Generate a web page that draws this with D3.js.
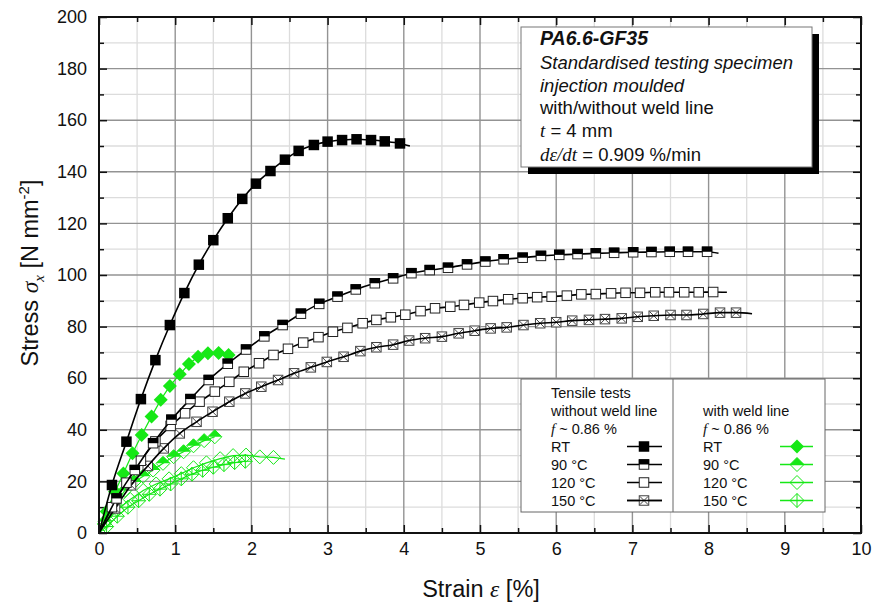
<!DOCTYPE html>
<html><head><meta charset="utf-8">
<script src="https://cdn.jsdelivr.net/npm/d3@7"></script>
<style>
body{margin:0;background:#fff}
svg{display:block}
text{font-family:"Liberation Sans",Arial,Helvetica,sans-serif;fill:#111}
.it{font-style:italic}
.serif{font-family:"Liberation Serif","Times New Roman",serif;font-style:italic}
</style>
</head><body>
<svg id="chart" width="881" height="602"></svg>
<script>
// ---------- data ----------
const xTickValues = [0,1,2,3,4,5,6,7,8,9,10];
const yTickValues = [0,20,40,60,80,100,120,140,160,180,200];

// Without weld line  [strain %, stress N/mm²]
const rtNoWeld = [[0.17,18.6],[0.36,35.4],[0.55,51.9],[0.74,67],[0.93,80.6],[1.12,93],[1.31,104],[1.50,113.5],[1.69,122],[1.88,129.5],[2.06,135.4],[2.25,140.3],[2.44,144.7],[2.62,148.1],[2.82,150.4],[3.00,151.7],[3.19,152.3],[3.38,152.6],[3.57,152.3],[3.75,151.8],[3.95,151.0]];
const rtNoWeldEnd = [4.08,150];
const t90NoWeld = [[0.23,13.4],[0.47,24.4],[0.71,34.8],[0.95,43.9],[1.20,51.9],[1.44,59.3],[1.69,65.6],[1.93,71.1],[2.17,76.2],[2.41,80.6],[2.65,85.0],[2.89,88.8],[3.13,91.6],[3.37,94.4],[3.62,96.8],[3.86,98.7],[4.10,100.7],[4.34,101.9],[4.58,102.8],[4.83,104.1],[5.07,105.2],[5.31,106.1],[5.56,106.7],[5.80,107.4],[6.04,107.8],[6.28,108.1],[6.52,108.4],[6.76,108.6],[7.01,108.8],[7.25,108.9],[7.49,109.0],[7.73,109.0],[7.98,109.0]];
const t90NoWeldEnd = [8.13,108.4];
const t120NoWeld = [[0.17,10],[0.36,19.5],[0.55,28],[0.74,35.5],[0.94,41.5],[1.13,46.4],[1.32,50.9],[1.52,54.8],[1.71,58.6],[1.90,62.5],[2.10,65.8],[2.29,69.0],[2.48,71.4],[2.68,73.8],[2.88,75.9],[3.07,78.0],[3.26,79.5],[3.46,81.3],[3.64,82.6],[3.83,83.6],[4.02,84.6],[4.22,86.0],[4.41,87.1],[4.61,87.7],[4.79,88.4],[4.99,89.3],[5.17,89.9],[5.37,90.6],[5.56,91.0],[5.75,91.4],[5.94,91.6],[6.14,92.0],[6.33,92.5],[6.52,92.6],[6.72,92.9],[6.91,93.1],[7.10,93.1],[7.30,93.3],[7.48,93.3],[7.68,93.3],[7.87,93.3],[8.06,93.4]];
const t120NoWeldEnd = [8.24,93.3];
const t150NoWeld = [[0.21,9.5],[0.42,18.5],[0.64,26],[0.85,32.8],[1.06,38.6],[1.28,43.1],[1.49,47.0],[1.71,50.9],[1.92,54.1],[2.13,56.7],[2.35,59.3],[2.56,61.9],[2.78,64.2],[2.99,66.3],[3.21,68.3],[3.43,70.5],[3.64,72.0],[3.86,73.0],[4.07,74.6],[4.28,75.5],[4.50,76.1],[4.72,77.4],[4.93,78.4],[5.14,79.3],[5.35,79.7],[5.57,80.6],[5.79,81.3],[6.00,81.7],[6.21,82.3],[6.43,82.6],[6.64,82.9],[6.86,83.2],[7.07,83.8],[7.28,84.2],[7.50,84.5],[7.71,84.5],[7.93,84.9],[8.15,85.4],[8.36,85.4]];
const t150NoWeldEnd = [8.57,85.0];

// With weld line
const rtWeld = [[0.10,8.3],[0.21,16],[0.32,23.1],[0.44,30.9],[0.56,38],[0.69,45.2],[0.81,51.6],[0.93,57],[1.06,61.5],[1.18,65.5],[1.30,68.3],[1.43,69.7],[1.57,69.8],[1.70,69.0]];
const t90Weld = [[0.08,4.5],[0.21,11],[0.34,16.5],[0.46,19.8],[0.58,22],[0.71,24.4],[0.84,27],[0.98,29.6],[1.11,31.5],[1.24,33.8],[1.38,35.8],[1.52,37.3]];
const t120Weld = [[0.07,3.5],[0.24,9],[0.41,13],[0.58,16.5],[0.75,19],[0.92,21],[1.08,23],[1.24,25.3],[1.41,27.2],[1.59,28.8],[1.76,30.0],[1.93,30.2],[2.11,29.5],[2.29,29.3]];
const t120WeldEnd = [2.44,28.6];
const t150Weld = [[0.10,2.5],[0.24,6.5],[0.38,10],[0.52,12.5],[0.66,15],[0.80,17],[0.94,19],[1.08,21],[1.22,22.8],[1.36,24.3],[1.50,25.5],[1.64,26.5],[1.78,27.3],[1.92,27.8]];

const legendNoWeld = ["RT","90 °C","120 °C","150 °C"];
const legendWeld = ["RT","90 °C","120 °C","150 °C"];

// ---------- drawing ----------
const GREEN = "#16e816";
const svg = d3.select("#chart");
const x = d3.scaleLinear().domain([0,10]).range([99,861]);
const y = d3.scaleLinear().domain([0,200]).range([533,17]);
const L = x.range()[0], R = x.range()[1], T = y.range()[1], B = y.range()[0];

// grid
const grid = svg.append("g");
d3.range(0.5,10,1).forEach(v=>grid.append("line").attr("x1",x(v)).attr("x2",x(v)).attr("y1",T).attr("y2",B).attr("stroke","#dcdcdc").attr("stroke-width",1.3));
d3.range(10,200,20).forEach(v=>grid.append("line").attr("x1",L).attr("x2",R).attr("y1",y(v)).attr("y2",y(v)).attr("stroke","#dcdcdc").attr("stroke-width",1.3));
xTickValues.slice(1,-1).forEach(v=>grid.append("line").attr("x1",x(v)).attr("x2",x(v)).attr("y1",T).attr("y2",B).attr("stroke","#939393").attr("stroke-width",1.4));
yTickValues.slice(1,-1).forEach(v=>grid.append("line").attr("x1",L).attr("x2",R).attr("y1",y(v)).attr("y2",y(v)).attr("stroke","#939393").attr("stroke-width",1.4));

// axes (inward ticks)
function styleAxis(g){g.select(".domain").remove();g.selectAll(".tick line").attr("stroke","#111").attr("stroke-width",1.5);}
const minorX = d3.range(0.5,10,1), minorY = d3.range(10,200,20);
svg.append("g").attr("transform",`translate(0,${B})`).call(d3.axisBottom(x).tickValues(xTickValues).tickSize(-8).tickPadding(9).tickFormat(d3.format("d"))).call(styleAxis).selectAll("text").attr("font-size",18).style("font-family","'Liberation Sans',Arial,sans-serif").attr("fill","#111");
svg.append("g").attr("transform",`translate(0,${B})`).call(d3.axisBottom(x).tickValues(minorX).tickSize(-5).tickFormat("")).call(styleAxis);
svg.append("g").attr("transform",`translate(0,${T})`).call(d3.axisTop(x).tickValues(xTickValues).tickSize(-8).tickFormat("")).call(styleAxis);
svg.append("g").attr("transform",`translate(0,${T})`).call(d3.axisTop(x).tickValues(minorX).tickSize(-5).tickFormat("")).call(styleAxis);
svg.append("g").attr("transform",`translate(${L},0)`).call(d3.axisLeft(y).tickValues(yTickValues).tickSize(-8).tickPadding(12).tickFormat(d3.format("d"))).call(styleAxis).selectAll("text").attr("font-size",18).style("font-family","'Liberation Sans',Arial,sans-serif").attr("fill","#111");
svg.append("g").attr("transform",`translate(${L},0)`).call(d3.axisLeft(y).tickValues(minorY).tickSize(-5).tickFormat("")).call(styleAxis);
svg.append("g").attr("transform",`translate(${R},0)`).call(d3.axisRight(y).tickValues(yTickValues).tickSize(-8).tickFormat("")).call(styleAxis);
svg.append("g").attr("transform",`translate(${R},0)`).call(d3.axisRight(y).tickValues(minorY).tickSize(-5).tickFormat("")).call(styleAxis);

// markers
function square(g,type,cx,cy,s=10.5){
  const h=s/2;
  if(type==="filled"){g.append("rect").attr("x",cx-h).attr("y",cy-h).attr("width",s).attr("height",s).attr("fill","#000");return;}
  g.append("rect").attr("x",cx-h+0.5).attr("y",cy-h+0.5).attr("width",s-1).attr("height",s-1).attr("fill","#fff").attr("stroke",type==="cross"?"#444":"#222").attr("stroke-width",1);
  if(type==="half") g.append("rect").attr("x",cx-h).attr("y",cy-h).attr("width",s).attr("height",s/2).attr("fill","#000");
  if(type==="cross"){
    g.append("path").attr("d",`M${cx-h+1},${cy-h+1}L${cx+h-1},${cy+h-1}M${cx+h-1},${cy-h+1}L${cx-h+1},${cy+h-1}`).attr("stroke","#444").attr("stroke-width",1);
  }
}
function diamond(g,type,cx,cy,r=7){
  const d=`M${cx},${cy-r}L${cx+r},${cy}L${cx},${cy+r}L${cx-r},${cy}Z`;
  if(type==="filled"){g.append("path").attr("d",d).attr("fill",GREEN);return;}
  g.append("path").attr("d",d).attr("fill","none").attr("stroke",GREEN).attr("stroke-width",1);
  if(type==="half") g.append("path").attr("d",`M${cx},${cy-r}L${cx+r},${cy}L${cx-r},${cy}Z`).attr("fill",GREEN);
  if(type==="cross") g.append("path").attr("d",`M${cx},${cy-r}L${cx},${cy+r}M${cx-r},${cy}L${cx+r},${cy}`).attr("stroke",GREEN).attr("stroke-width",1);
}

const smooth = d3.line().x(d=>x(d[0])).y(d=>y(d[1])).curve(d3.curveMonotoneX);
const straight = d3.line().x(d=>x(d[0])).y(d=>y(d[1]));
const plot = svg.append("g");

// green series (with weld line)
const greens = [
  {pts:t150Weld,type:"cross",end:null},
  {pts:t120Weld,type:"open",end:t120WeldEnd},
  {pts:t90Weld,type:"half",end:null},
  {pts:rtWeld,type:"filled",end:null}
];
greens.forEach(s=>{
  const pts=[[0,0],...s.pts].concat(s.end?[s.end]:[]);
  plot.append("path").attr("d",straight(pts)).attr("fill","none").attr("stroke",GREEN).attr("stroke-width",1.2);
  const g=plot.append("g");
  s.pts.forEach(p=>diamond(g,s.type,x(p[0]),y(p[1])));
});

// black series (without weld line)
const blacks = [
  {pts:t150NoWeld,type:"cross",end:t150NoWeldEnd,lineOnTop:true},
  {pts:t120NoWeld,type:"open",end:t120NoWeldEnd},
  {pts:t90NoWeld,type:"half",end:t90NoWeldEnd},
  {pts:rtNoWeld,type:"filled",end:rtNoWeldEnd}
];
blacks.forEach(s=>{
  const pts=[[0,0],...s.pts,s.end];
  const ln=()=>plot.append("path").attr("d",smooth(pts)).attr("fill","none").attr("stroke","#000").attr("stroke-width",1.6);
  if(!s.lineOnTop) ln();
  const g=plot.append("g");
  s.pts.forEach(p=>square(g,s.type,x(p[0]),y(p[1])));
  if(s.lineOnTop) ln();
});

// frame
svg.append("rect").attr("x",L).attr("y",T).attr("width",R-L).attr("height",B-T).attr("fill","none").attr("stroke","#111").attr("stroke-width",2);

// axis titles
const yl = svg.append("text").attr("transform","translate(38,273) rotate(-90)").attr("text-anchor","middle").attr("font-size",23.5);
yl.append("tspan").text("Stress ");
yl.append("tspan").attr("class","serif").text("σ");
yl.append("tspan").attr("class","serif").attr("font-size",15).attr("dy",6).text("x");
yl.append("tspan").attr("dy",-6).text(" [N mm");
yl.append("tspan").attr("font-size",15).attr("dy",-9).text("-2");
yl.append("tspan").attr("dy",9).text("]");

const xl = svg.append("text").attr("x",481).attr("y",597).attr("text-anchor","middle").attr("font-size",23.5);
xl.append("tspan").text("Strain ");
xl.append("tspan").attr("class","serif").text("ε");
xl.append("tspan").text(" [%]");

// annotation box
svg.append("rect").attr("x",528).attr("y",34).attr("width",291).attr("height",140).attr("fill","#000");
svg.append("rect").attr("x",521).attr("y",27).attr("width",291).attr("height",140).attr("fill","#fff").attr("stroke","#777").attr("stroke-width",1);
const ax=540;
svg.append("text").attr("x",ax).attr("y",45).attr("font-size",19.5).attr("font-weight","bold").attr("class","it").text("PA6.6-GF35");
svg.append("text").attr("x",ax).attr("y",69).attr("font-size",18.5).attr("class","it").text("Standardised testing specimen");
svg.append("text").attr("x",ax).attr("y",92).attr("font-size",18.5).attr("class","it").text("injection moulded");
svg.append("text").attr("x",ax).attr("y",114).attr("font-size",18.5).text("with/without weld line");
const tl=svg.append("text").attr("x",ax).attr("y",137).attr("font-size",18.5);
tl.append("tspan").attr("class","serif").attr("font-size",19).text("t");
tl.append("tspan").text(" = 4 mm");
const rl=svg.append("text").attr("x",ax).attr("y",161).attr("font-size",18.5);
rl.append("tspan").attr("class","serif").attr("font-size",19).text("dε/dt");
rl.append("tspan").text(" = 0.909 %/min");

// legend box
svg.append("rect").attr("x",521).attr("y",379).attr("width",304).attr("height",133).attr("fill","#fff").attr("stroke","#666").attr("stroke-width",1);
svg.append("line").attr("x1",673).attr("x2",673).attr("y1",379).attr("y2",512).attr("stroke","#666").attr("stroke-width",1);
const lfs=14.5;
function ftext(xp,yp){const t=svg.append("text").attr("x",xp).attr("y",yp).attr("font-size",lfs);t.append("tspan").attr("class","serif").attr("font-size",15).text("f");t.append("tspan").text(" ~ 0.86 %");}
svg.append("text").attr("x",551).attr("y",398).attr("font-size",lfs).text("Tensile tests");
svg.append("text").attr("x",551).attr("y",416).attr("font-size",lfs).text("without weld line");
ftext(551,434);
svg.append("text").attr("x",703).attr("y",416).attr("font-size",lfs).text("with weld line");
ftext(703,434);
const sqTypes=["filled","half","open","cross"];
const lg=svg.append("g");
legendNoWeld.forEach((lab,i)=>{
  const yy=452+18*i;
  lg.append("text").attr("x",551).attr("y",yy).attr("font-size",lfs).text(lab);
  lg.append("line").attr("x1",627).attr("x2",662).attr("y1",yy-5.5).attr("y2",yy-5.5).attr("stroke","#000").attr("stroke-width",1.6);
  square(lg,sqTypes[i],644,yy-5.5);
  if(sqTypes[i]==="cross") lg.append("line").attr("x1",627).attr("x2",662).attr("y1",yy-5.5).attr("y2",yy-5.5).attr("stroke","#000").attr("stroke-width",1.4);
});
legendWeld.forEach((lab,i)=>{
  const yy=452+18*i;
  lg.append("text").attr("x",703).attr("y",yy).attr("font-size",lfs).text(lab);
  lg.append("line").attr("x1",780).attr("x2",813).attr("y1",yy-5.5).attr("y2",yy-5.5).attr("stroke",GREEN).attr("stroke-width",1.3);
  diamond(lg,sqTypes[i],797,yy-5.5);
});
</script>
</body></html>
